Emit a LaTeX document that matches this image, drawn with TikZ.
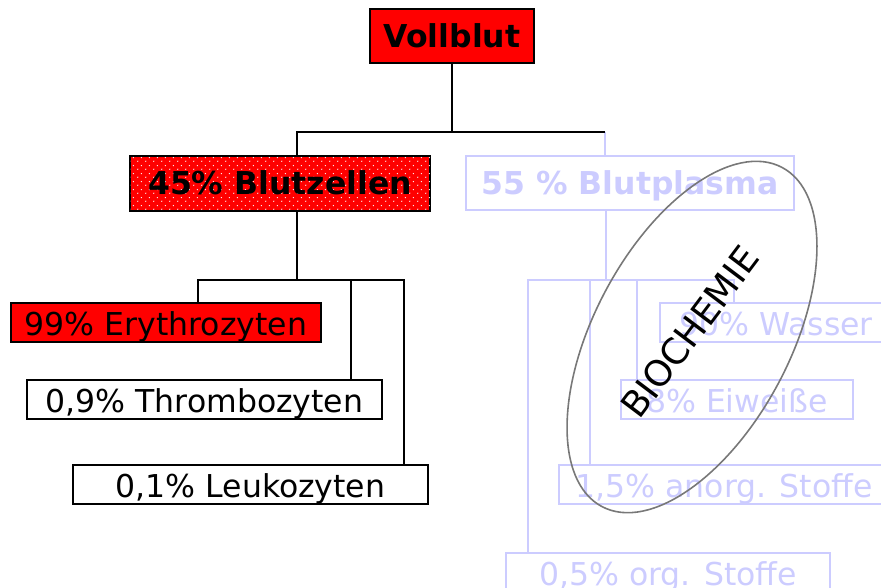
\documentclass[tikz,border=0pt]{standalone}
\usepackage{fontspec}
\setmainfont{DejaVu Sans}
\usetikzlibrary{patterns}
\pgfdeclarepatternformonly{wdots}{\pgfqpoint{0pt}{0pt}}{\pgfqpoint{8pt}{8pt}}{\pgfqpoint{8pt}{8pt}}{%
  \pgfpathcircle{\pgfqpoint{2pt}{2pt}}{0.75pt}%
  \pgfpathcircle{\pgfqpoint{6pt}{6pt}}{0.75pt}%
  \pgfusepath{fill}}
\definecolor{lblue}{RGB}{204,204,255}
\definecolor{ellgray}{RGB}{120,120,120}
\tikzset{
  box/.style={draw=black, line width=1.8pt, inner sep=0pt, anchor=center,
    font=\fontsize{31.5}{36}\selectfont, text=black, text height=27pt, text depth=2pt},
  bigbox/.style={box, minimum height=54pt, font=\fontsize{31.5}{36}\selectfont\bfseries,
    text height=26pt, text depth=4pt},
  smallbox/.style={box, minimum height=39pt},
  redbox/.style={fill=red},
  bluebox/.style={draw=lblue, text=lblue, fill=none},
  blk/.style={draw=black, line width=2.5pt},
  lb/.style={draw=lblue, line width=2.2pt},
}
\begin{document}
\begin{tikzpicture}[x=1pt,y=1pt]
\useasboundingbox (0,0) rectangle (881,-587);
\clip (0,0) rectangle (881,-587);

% junction coordinates
\coordinate (j1) at (452,-132);
\coordinate (jL) at (297,-132);
\coordinate (jR) at (605,-132);
\coordinate (k)  at (297,-280);
\coordinate (k1) at (198,-280);
\coordinate (k2) at (351,-280);
\coordinate (k3) at (404,-280);
\coordinate (m)  at (606,-280);
\coordinate (m1) at (528,-280);
\coordinate (m2) at (590,-280);
\coordinate (m3) at (637,-280);
\coordinate (m4) at (734,-280);

% light blue branch (behind)
\node[smallbox, bluebox, minimum width=232pt] (was) at (776,-322.5) {90\% Wasser};
\node[smallbox, bluebox, minimum width=232pt] (eiw) at (737,-399.5) {8\% Eiweiße};
\node[smallbox, bluebox, minimum width=330pt] (ano) at (724,-484.5) {1,5\% anorg. Stoffe};
\node[smallbox, bluebox, minimum width=324pt] (org) at (668,-572.5) {0,5\% org. Stoffe};
\node[bigbox, bluebox, minimum width=328pt, minimum height=54pt] (bp) at (630,-183) {55 \% Blutplasma};

\draw[lb] (jR) -- (jR |- bp.north);
\draw[lb] (bp.south -| m) -- (m);
\draw[lb] (org.north -| m1) -- (m1) -- (m4) -- (was.north -| m4);
\draw[lb] (m2) -- (ano.north -| m2);
\draw[lb] (m3) -- (eiw.north -| m3);

% black branch
\node[bigbox, redbox, minimum width=164pt] (voll) at (452,-36) {Vollblut};
\node[bigbox, redbox, minimum width=300pt, minimum height=55pt,
      postaction={pattern=wdots, pattern color=white}] (bz) at (280,-183.5) {45\% Blutzellen};
\node[smallbox, redbox, minimum width=310pt] (ery) at (166,-322.5) {99\% Erythrozyten};
\node[smallbox, fill=white, minimum width=355pt] (thr) at (204.5,-399.5) {0,9\% Thrombozyten};
\node[smallbox, fill=white, minimum width=355pt] (leu) at (250.5,-484.5) {0,1\% Leukozyten};

\draw[blk] (voll.south) -- (j1);
\draw[blk] (bz.north -| jL) -- (jL) -- (jR);
\draw[blk] (bz.south -| k) -- (k);
\draw[blk] (ery.north -| k1) -- (k1) -- (k3) -- (leu.north -| k3);
\draw[blk] (k2) -- (thr.north -| k2);

% Biochemie ellipse
\draw[ellgray, line width=1.6pt, rotate around={62:(692,-337)}] (692,-337) ellipse [x radius=192pt, y radius=98pt];
\node[rotate=53, font=\fontsize{36}{40}\selectfont, text=black, inner sep=0pt] (bio) at (690,-332) {BIOCHEMIE};
\end{tikzpicture}
\end{document}
